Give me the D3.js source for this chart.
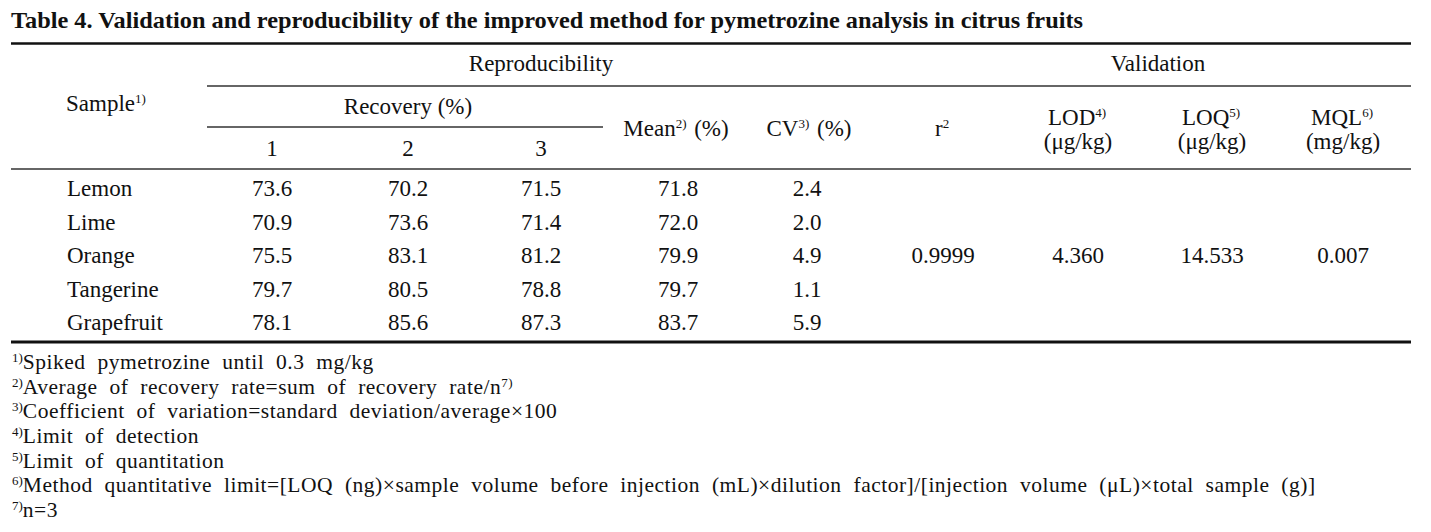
<!DOCTYPE html>
<html><head><meta charset="utf-8">
<script src="https://cdn.jsdelivr.net/npm/d3@7"></script>
<style>
html,body{margin:0;padding:0;background:#fff;}
</style></head>
<body><svg id="c" width="1431" height="532" font-family="'Liberation Serif', 'Tinos', 'DejaVu Serif', 'Times New Roman', serif"></svg>
<script>
const title = "Table 4. Validation and reproducibility of the improved method for pymetrozine analysis in citrus fruits";
const samples = ["Lemon","Lime","Orange","Tangerine","Grapefruit"];
const recovery1 = ["73.6","70.9","75.5","79.7","78.1"];
const recovery2 = ["70.2","73.6","83.1","80.5","85.6"];
const recovery3 = ["71.5","71.4","81.2","78.8","87.3"];
const means = ["71.8","72.0","79.9","79.7","83.7"];
const cvs = ["2.4","2.0","4.9","1.1","5.9"];
const validationKeys = ["r2","LOD","LOQ","MQL"];
const validationValues = ["0.9999","4.360","14.533","0.007"];
const footnotes = [
  ["1)","Spiked pymetrozine until 0.3 mg/kg",""],
  ["2)","Average of recovery rate=sum of recovery rate/n","7)"],
  ["3)","Coefficient of variation=standard deviation/average×100",""],
  ["4)","Limit of detection",""],
  ["5)","Limit of quantitation",""],
  ["6)","Method quantitative limit=[LOQ (ng)×sample volume before injection (mL)×dilution factor]/[injection volume (μL)×total sample (g)]",""],
  ["7)","n=3",""]
];

const FONT = "'Liberation Serif', 'Tinos', 'DejaVu Serif', 'Times New Roman', serif";
const svg = d3.select("#c");
svg.append("rect").attr("width",1431).attr("height",532).attr("fill","#fff");

const colKeys = ["sample","r1","r2","r3","mean","cv","r2v","LOD","LOQ","MQL"];
const colX = d3.scaleOrdinal().domain(colKeys)
  .range([63,272,408,541,678,807,943,1078,1212,1343]);
const rowY = d3.scalePoint().domain(samples).range([196,330]);

const BODY = 23;

function fit(sel,w){
  const n = sel.node();
  const cur = n.getComputedTextLength();
  if (Math.abs(cur-w) > 2) sel.attr("textLength",w).attr("lengthAdjust","spacingAndGlyphs");
}

// title
svg.append("text").attr("x",11).attr("y",28).attr("font-family",FONT).attr("fill","#111")
  .style("font-weight","bold").style("font-size","23.5px").text(title)
  .call(fit,1072);

// rules
function rule(x1,x2,y,sw,col){
  svg.append("line").attr("x1",x1).attr("x2",x2).attr("y1",y).attr("y2",y)
    .attr("stroke",col||"#111").attr("stroke-width",sw);
}
rule(11,1411,43.5,2.6);
rule(207,1411,86,1.3,"#333");
rule(207,603,127,1.3,"#333");
rule(11,1411,169,1.6,"#333");
rule(11,1411,342,3);

function label(x,y,parts,anchor,size){
  const t = svg.append("text").attr("x",x).attr("y",y).attr("font-family",FONT).attr("fill","#111")
    .attr("text-anchor",anchor||"middle").style("font-size",(size||BODY)+"px");
  parts.forEach(p=>{
    if (typeof p === "string") t.append("tspan").text(p);
    else {
      t.append("tspan").attr("dy",-p.up).style("font-size",p.size+"px").text(p.sup);
      t.append("tspan").attr("dy",p.up).text("\u200A");
    }
  });
  return t;
}
const sup = s => ({sup:s, up:8, size:13});

label(541,71,["Reproducibility"]);
label(1158,71,["Validation"]);
label(66,111,["Sample",sup("1)")],"start");
label(408,114,["Recovery (%)"]);
["1","2","3"].forEach((d,i)=>label(colX(["r1","r2","r3"][i]),156,[d]));
label(676,136,["Mean",sup("2)")," (%)"]);
label(809,136,["CV",sup("3)")," (%)"]);
label(943,136,["r",sup("2")]);
label(1078,125,["LOD",sup("4)")]);
label(1078,149,["(μg/kg)"]);
label(1212,125,["LOQ",sup("5)")]);
label(1212,149,["(μg/kg)"]);
label(1343,125,["MQL",sup("6)")]);
label(1343,149,["(mg/kg)"]);

// body rows
const g = svg.append("g").attr("font-family",FONT).attr("fill","#111").style("font-size",BODY+"px");
g.selectAll("text.s").data(samples).join("text").attr("class","s")
  .attr("x",colX("sample")+4).attr("y",d=>rowY(d)).text(d=>d);
const cols = [["r1",recovery1],["r2",recovery2],["r3",recovery3],["mean",means],["cv",cvs]];
cols.forEach(([k,arr])=>{
  g.selectAll("text."+k).data(arr).join("text").attr("class",k)
    .attr("text-anchor","middle").attr("x",colX(k)).attr("y",(d,i)=>rowY(samples[i])).text(d=>d);
});
const vCols = ["r2v","LOD","LOQ","MQL"];
g.selectAll("text.v").data(validationValues).join("text").attr("class","v")
  .attr("text-anchor","middle").attr("x",(d,i)=>colX(vCols[i])).attr("y",rowY("Orange")).text(d=>d);

// footnotes
const fy = d3.scaleLinear().domain([0,footnotes.length-1]).range([369,517]);
footnotes.forEach((f,i)=>{
  const t = svg.append("text").attr("x",12).attr("y",fy(i)).attr("font-family",FONT).attr("fill","#111")
    .style("font-size","21.5px").style("word-spacing","6px").style("letter-spacing","0.5px");
  t.append("tspan").attr("dy",-7).style("font-size","13px").style("letter-spacing","0px").text(f[0]);
  t.append("tspan").attr("dy",7).text(f[1]);
  if (f[2]) t.append("tspan").attr("dy",-7).style("font-size","13px").text(f[2]);
});
</script></body></html>
